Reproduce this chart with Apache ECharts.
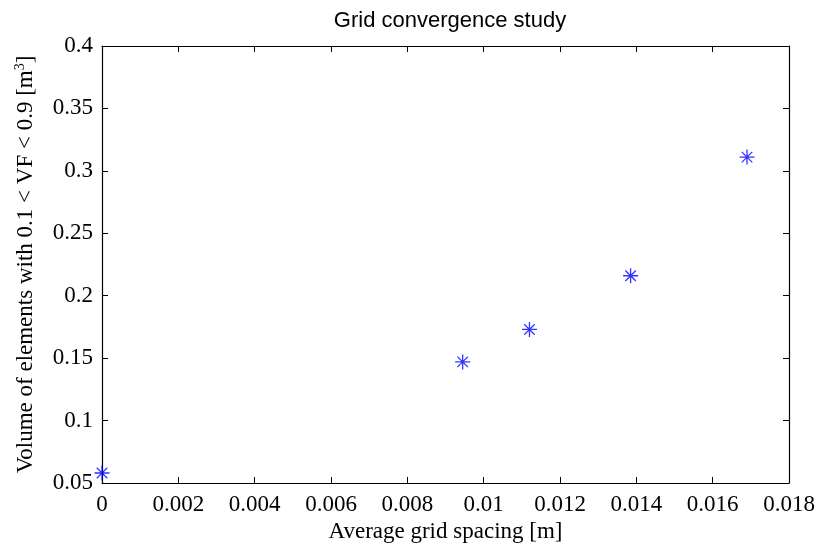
<!DOCTYPE html>
<html>
<head>
<meta charset="utf-8">
<script src="https://cdn.jsdelivr.net/npm/echarts@6/dist/echarts.min.js"></script>
<style>
html, body { margin: 0; padding: 0; background: #fff; }
#main { width: 819px; height: 548px; }
</style>
</head>
<body>
<div id="main"></div>
<script>
// grid spacing [m] vs volume [m^3]
var spacing = [0, 0.00945, 0.0112, 0.01385, 0.0169]
var volume = [0.058, 0.147, 0.173, 0.216, 0.311]

var points = spacing.map(function (x, i) { return [x, volume[i]] })

var chart = echarts.init(document.getElementById('main'))

var serif = 'Liberation Serif'
var axisBase = {
    axisLine: { show: true, onZero: false, lineStyle: { color: '#000', width: 1.2 } },
    axisTick: { show: true, inside: true, length: 6, lineStyle: { color: '#000' } },
    splitLine: { show: false },
    axisLabel: { color: '#000', fontFamily: serif, fontSize: 23 }
}

var option = {
    backgroundColor: '#fff',
    animation: false,
    title: {
        text: 'Grid convergence study',
        left: 445,
        top: 5,
        textAlign: 'center',
        textStyle: { fontFamily: 'Liberation Sans', fontSize: 22, fontWeight: 'normal', color: '#000' }
    },
    grid: { left: 102, top: 46, right: 30, bottom: 65, outerBoundsMode: 'none' },
    xAxis: [
        Object.assign({}, axisBase, {
            type: 'value', min: 0, max: 0.018, interval: 0.002,
            name: 'Average grid spacing [m]',
            nameLocation: 'middle', nameGap: 36,
            nameTextStyle: { fontFamily: serif, fontSize: 23, color: '#000' },
            axisLabel: Object.assign({}, axisBase.axisLabel, { margin: 10 })
        }),
        Object.assign({}, axisBase, {
            type: 'value', min: 0, max: 0.018, interval: 0.002, position: 'top',
            axisLabel: { show: false }
        })
    ],
    yAxis: [
        Object.assign({}, axisBase, {
            type: 'value', min: 0.05, max: 0.4, interval: 0.05,
            name: 'Volume of elements with 0.1 < VF < 0.9 [m{sup|3}]',
            nameLocation: 'middle', nameGap: 63,
            nameTextStyle: {
                fontFamily: serif, fontSize: 23, color: '#000',
                rich: { sup: { fontFamily: serif, fontSize: 14, verticalAlign: 'top', padding: [0, 0, 12, 0] } }
            },
            axisLabel: Object.assign({}, axisBase.axisLabel, { margin: 9 })
        }),
        Object.assign({}, axisBase, {
            type: 'value', min: 0.05, max: 0.4, interval: 0.05, position: 'right',
            axisLabel: { show: false }
        })
    ],
    series: [{
        type: 'scatter',
        data: points,
        symbol: 'path://M0,-10L0,10M-10,0L10,0M-7,-7L7,7M-7,7L7,-7',
        symbolSize: 15,
        itemStyle: { color: 'none', borderColor: '#0000ff', borderWidth: 1.3 }
    }]
}

chart.setOption(option)
</script>
</body>
</html>
